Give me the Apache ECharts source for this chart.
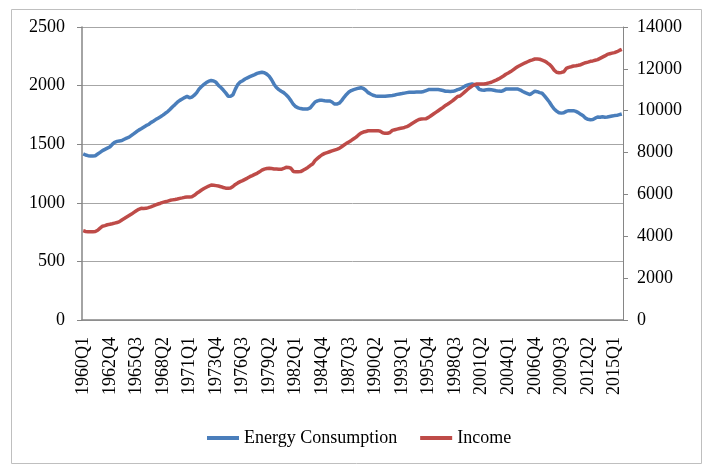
<!DOCTYPE html>
<html>
<head>
<meta charset="utf-8">
<script src="https://cdn.jsdelivr.net/npm/echarts@6/dist/echarts.min.js"></script>
<style>
  html, body { margin: 0; padding: 0; background: #fff; }
  #chart { width: 711px; height: 466px; }
</style>
</head>
<body>
<div id="chart"></div>
<script>
// quarterly categories 1960Q1 .. 2015Q4
const quarters = [];
for (let y = 1960; y <= 2015; y++) {
  for (let q = 1; q <= 4; q++) quarters.push(y + "Q" + q);
}

const seriesNames = ["Energy Consumption", "Income"];

// left axis
const energy = [
  1418, 1408, 1402, 1400,  1400, 1402, 1416, 1430,  1445, 1456, 1466, 1476,
  1498, 1516, 1524, 1528,  1531, 1542, 1552, 1560,  1575, 1590, 1606, 1620,
  1632, 1645, 1658, 1668,  1684, 1696, 1710, 1722,  1734, 1748, 1764, 1778,
  1798, 1820, 1838, 1858,  1874, 1886, 1898, 1908,  1896, 1902, 1918, 1940,
  1972, 1992, 2010, 2026,  2038, 2043, 2040, 2028,  2002, 1984, 1962, 1938,
  1910, 1908, 1922, 1970,  2010, 2030, 2042, 2056,  2066, 2076, 2085, 2094,
  2104, 2110, 2114, 2110,  2098, 2080, 2050, 2012,  1984, 1966, 1952, 1940,
  1922, 1900, 1872, 1840,  1820, 1810, 1804, 1800,  1800, 1801, 1810, 1835,
  1860, 1870, 1875, 1874,  1870, 1868, 1869, 1860,  1843, 1842, 1850, 1872,
  1900, 1925, 1945, 1958,  1966, 1972, 1978, 1982,  1975, 1960, 1940, 1928,
  1918, 1912, 1910, 1909,  1909, 1910, 1912, 1914,  1916, 1920, 1925, 1929,
  1932, 1936, 1940, 1943,  1944, 1944, 1945, 1946,  1946, 1950, 1958, 1966,
  1967, 1966, 1967, 1966,  1963, 1958, 1952, 1951,  1950, 1951, 1956, 1966,
  1971, 1982, 1995, 2003,  2010, 2014, 2008, 1994,  1968, 1962, 1960, 1964,
  1966, 1964, 1960, 1956,  1953, 1951, 1958, 1970,  1972, 1972, 1971, 1970,
  1970, 1962, 1950, 1940,  1932, 1924, 1938, 1951,  1948, 1940, 1935, 1912,
  1886, 1860, 1828, 1800,  1782, 1768, 1765, 1768,  1780, 1786, 1786, 1786,
  1780, 1770, 1755, 1742,  1722, 1712, 1709, 1710,  1722, 1732, 1730, 1734,
  1730, 1732, 1736, 1740,  1744, 1746, 1752, 1758
];

// right axis
const income = [
  4267, 4230, 4219, 4219,  4219, 4230, 4290, 4390,  4480, 4510, 4550, 4572,
  4600, 4630, 4655, 4700,  4780, 4850, 4920, 4990,  5060, 5140, 5220, 5290,
  5336, 5330, 5336, 5370,  5405, 5450, 5500, 5543,  5580, 5620, 5654, 5680,
  5720, 5740, 5760, 5782,  5810, 5835, 5861, 5872,  5882, 5893, 5960, 6053,
  6130, 6211, 6280, 6340,  6400, 6450, 6440, 6420,  6400, 6370, 6330, 6300,
  6291, 6310, 6380, 6480,  6550, 6610, 6660, 6720,  6780, 6847, 6900, 6955,
  7007, 7080, 7160, 7210,  7240, 7246, 7235, 7220,  7210, 7200, 7198, 7240,
  7294, 7290, 7250, 7100,  7087, 7087, 7090, 7150,  7220, 7290, 7380, 7450,
  7620, 7720, 7820, 7900,  7960, 8000, 8040, 8080,  8120, 8155, 8200, 8280,
  8360, 8440, 8510, 8580,  8660, 8740, 8840, 8930,  8980, 9010, 9040, 9047,
  9047, 9047, 9047, 9020,  8950, 8919, 8919, 8960,  9060, 9090, 9120, 9150,
  9170, 9200, 9237, 9300,  9380, 9450, 9520, 9580,  9600, 9610, 9620, 9680,
  9760, 9840, 9920, 10000,  10080, 10160, 10250, 10320,  10400, 10480, 10580, 10680,
  10703, 10800, 10900, 11000,  11100, 11180, 11240, 11276,  11276, 11276, 11280, 11300,
  11330, 11360, 11410, 11460,  11520, 11590, 11660, 11740,  11800, 11870, 11950, 12040,
  12110, 12170, 12230, 12290,  12340, 12390, 12430, 12471,  12470, 12460, 12420, 12375,
  12300, 12217, 12100, 11940,  11840, 11816, 11830, 11864,  12020, 12070, 12100, 12136,
  12150, 12170, 12198, 12250,  12294, 12320, 12360, 12380,  12410, 12440, 12500, 12560,
  12620, 12690, 12720, 12750,  12774, 12820, 12880, 12934
];

const font = "Liberation Serif";
const axisGray = "#868686";
const plain = (v) => String(v);

const chart = echarts.init(document.getElementById("chart"));
chart.setOption({
  animation: false,
  textStyle: { fontFamily: font },
  graphic: [{
    type: "rect",
    shape: { x: 11.5, y: 9.5, width: 690, height: 454 },
    style: { fill: "none", stroke: "#bfbfbf", lineWidth: 1 },
    silent: true
  }],
  grid: { left: 82, right: 88, top: 27, bottom: 146 },
  legend: {
    data: seriesNames,
    left: 207,
    top: 429,
    padding: 0,
    icon: "rect",
    itemWidth: 32,
    itemHeight: 4,
    itemGap: 23,
    textStyle: { fontFamily: font, fontSize: 18, color: "#000" }
  },
  xAxis: {
    type: "category",
    data: quarters,
    boundaryGap: true,
    axisLine: { lineStyle: { color: axisGray, width: 1.5 } },
    axisTick: { interval: 1, length: 5, lineStyle: { color: axisGray } },
    axisLabel: {
      interval: 10,
      rotate: 90,
      margin: 17,
      fontFamily: font,
      fontSize: 18,
      color: "#000"
    }
  },
  yAxis: [
    {
      type: "value",
      min: 0,
      max: 2500,
      interval: 500,
      axisLine: { show: true, lineStyle: { color: axisGray, width: 1.5 } },
      axisTick: { show: true, length: 5, lineStyle: { color: axisGray } },
      axisLabel: { margin: 17, formatter: plain, fontFamily: font, fontSize: 18, color: "#000" },
      splitLine: { lineStyle: { color: "#a6a6a6", width: 1 } }
    },
    {
      type: "value",
      min: 0,
      max: 14000,
      interval: 2000,
      axisLine: { show: true, lineStyle: { color: axisGray, width: 1 } },
      axisTick: { show: true, length: 5, lineStyle: { color: axisGray } },
      axisLabel: { margin: 14, formatter: plain, fontFamily: font, fontSize: 18, color: "#000" },
      splitLine: { show: false }
    }
  ],
  series: [
    {
      name: seriesNames[0],
      type: "line",
      yAxisIndex: 0,
      data: energy,
      symbol: "none",
      color: "#4A7EBB",
      lineStyle: { width: 3.5, color: "#4A7EBB" }
    },
    {
      name: seriesNames[1],
      type: "line",
      yAxisIndex: 1,
      data: income,
      symbol: "none",
      color: "#BE4B48",
      lineStyle: { width: 3.5, color: "#BE4B48" }
    }
  ]
});
</script>
</body>
</html>
